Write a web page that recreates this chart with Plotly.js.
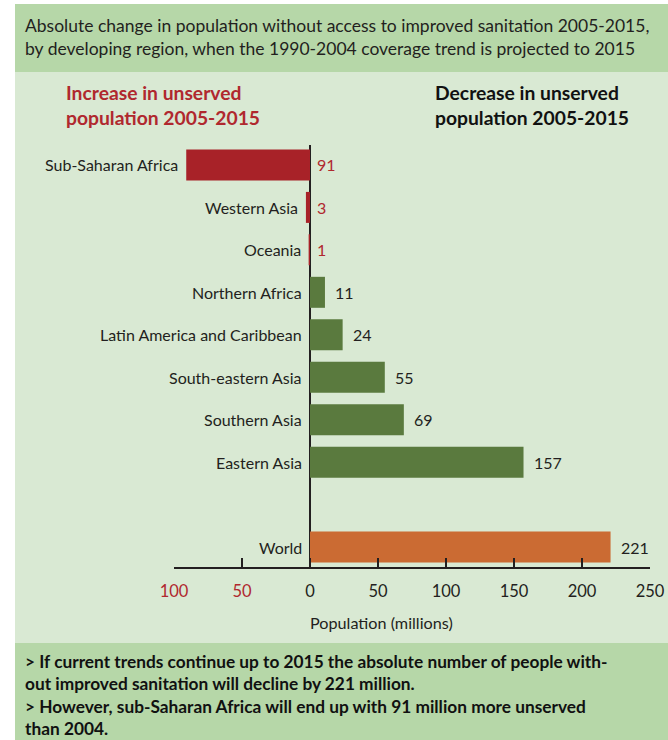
<!DOCTYPE html>
<html><head><meta charset="utf-8">
<script src="https://cdn.plot.ly/plotly-3.0.1.min.js"></script>
<style>html,body{margin:0;padding:0;background:#fff}#chart{width:668px;height:740px}</style>
</head><body><div id="chart"></div>
<script>
const regions = ["Sub-Saharan Africa","Western Asia","Oceania","Northern Africa","Latin America and Caribbean","South-eastern Asia","Southern Asia","Eastern Asia"];
const decrease = [-91,-3,-1,11,24,55,69,157];
const worldLabel = "World";
const worldDecrease = 221;
const tickValues = [-100,-50,0,50,100,150,200,250];
const tickLabels = ["100","50","0","50","100","150","200","250"];

const cats = regions.concat([worldLabel]);
const vals = decrease.concat([worldDecrease]);
const ypos = cats.map((c,i)=> i < regions.length ? i : regions.length + 1);

const RED="#a82228", GREEN="#5a7a3e", ORANGE="#cb6b33", DARK="#231f20", LABRED="#b0282e";
const colors = vals.map((v,i)=> i===vals.length-1 ? ORANGE : (v<0 ? RED : GREEN));

const W=668,H=740,L=174,R=18,T=145,B=173;
const PW=W-L-R, PH=H-T-B;
const px=x=>(x-L)/PW, py=y=>(H-B-y)/PH;

const FONT="Lato, 'Open Sans', sans-serif";
const ann=[];
cats.forEach((c,i)=>{
  const v=vals[i];
  ann.push({x:Math.min(v,0),y:ypos[i],xref:'x',yref:'y',text:c,showarrow:false,xanchor:'right',xshift:-6,
    font:{family:FONT,size:16,color:DARK}});
  ann.push({x:v<0?0:v,y:ypos[i],xref:'x',yref:'y',text:String(Math.abs(v)),showarrow:false,xanchor:'left',xshift:v<0?5:8,
    font:{family:FONT,size:16,color:v<0?LABRED:DARK}});
});
function txt(x,y,t,opts){ann.push(Object.assign({xref:'paper',yref:'paper',x:px(x),y:py(y),text:t,showarrow:false,xanchor:'left',yanchor:'middle',align:'left'},opts));}
txt(23,37,"Absolute change in population without access to improved sanitation 2005-2015,<br>by developing region, when the 1990-2004 coverage trend is projected to 2015",{font:{family:FONT,size:17.5,color:DARK}});
txt(64,105,"<b>Increase in unserved<br>population 2005-2015</b>",{font:{family:FONT,size:19.3,color:LABRED}});
txt(433,105,"<b>Decrease in unserved<br>population 2005-2015</b>",{font:{family:FONT,size:19.3,color:"#111"}});
txt(381,622,"Population (millions)",{xanchor:'center',font:{family:FONT,size:16.2,color:DARK}});
txt(23,695,"<b>&gt; If current trends continue up to 2015 the absolute number of people with-<br>out improved sanitation will decline by 221 million.<br>&gt; However, sub-Saharan Africa will end up with 91 million more unserved<br>than 2004.</b>",{font:{family:FONT,size:17.3,color:"#111"}});

const shapes=[
  {type:'rect',xref:'paper',yref:'paper',x0:px(15),x1:px(668),y0:py(4),y1:py(72),fillcolor:"#b6d7a8",line:{width:0},layer:'below'},
  {type:'rect',xref:'paper',yref:'paper',x0:px(15),x1:px(668),y0:py(72),y1:py(643),fillcolor:"#d9e9d3",line:{width:0},layer:'below'},
  {type:'rect',xref:'paper',yref:'paper',x0:px(15),x1:px(668),y0:py(643),y1:py(740),fillcolor:"#b6d7a8",line:{width:0},layer:'below'}
];

const trace={type:'bar',orientation:'h',x:vals,y:ypos,width:0.73,marker:{color:colors,line:{width:0}},hoverinfo:'skip',cliponaxis:false};

const ticktext=tickValues.map((v,i)=> v<0 ? `<span style="color:${LABRED}">${tickLabels[i]}</span>` : tickLabels[i]);

Plotly.newPlot('chart',[trace],{
  width:W,height:H,margin:{l:L,r:R,t:T,b:B},
  paper_bgcolor:'#fff',plot_bgcolor:'rgba(0,0,0,0)',
  showlegend:false,
  xaxis:{range:[-100,250],tickvals:tickValues,ticktext:ticktext,showgrid:false,
    zeroline:true,zerolinecolor:DARK,zerolinewidth:1.5,
    showline:true,linecolor:DARK,linewidth:1.5,ticks:'inside',ticklen:9,tickwidth:1.5,tickcolor:DARK,
    ticklabelstandoff:9,tickfont:{family:FONT,size:16.5,color:DARK},fixedrange:true},
  yaxis:{range:[9.47,-0.47],visible:false,showgrid:false,zeroline:false,fixedrange:true},
  annotations:ann,shapes:shapes,bargap:0.27
},{staticPlot:true});
</script></body></html>
